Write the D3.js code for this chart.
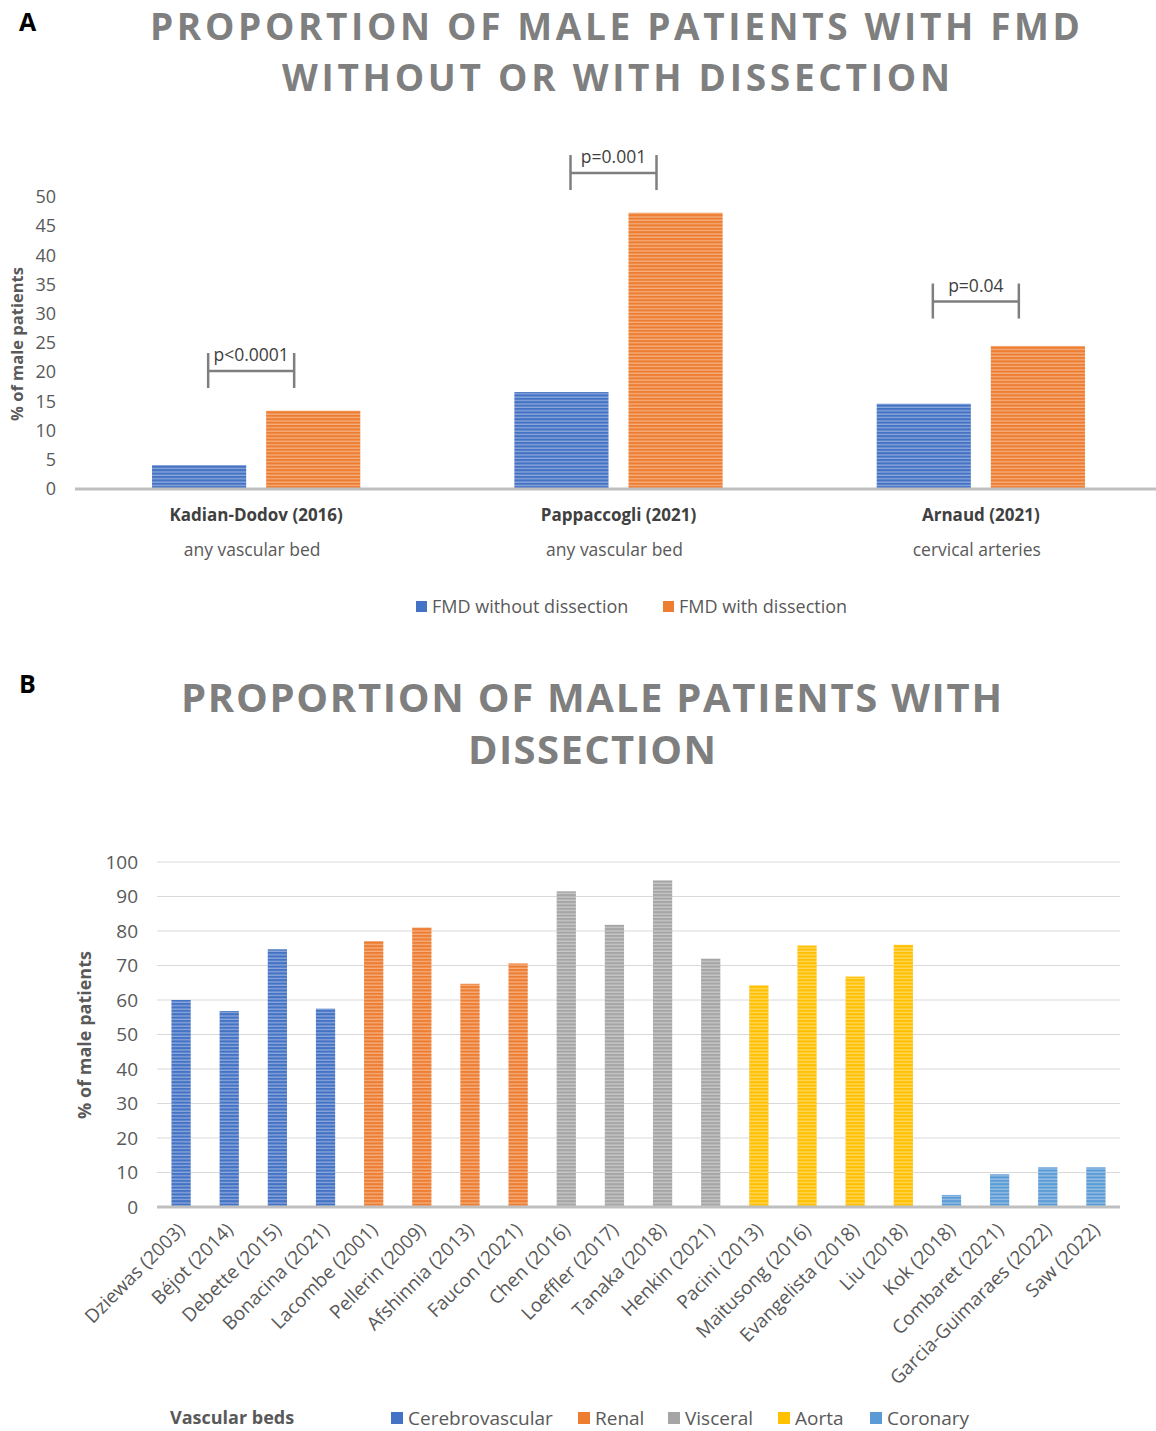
<!DOCTYPE html>
<html>
<head>
<meta charset="utf-8">
<script src="https://cdn.jsdelivr.net/npm/d3@7"></script>
<style>
  html, body { margin: 0; padding: 0; background: #fff; }
  svg { display: block; font-family: "Open Sans", sans-serif; }
</style>
</head>
<body>
<svg id="chart" width="1156" height="1431"></svg>
<script>
// ---------- Panel A data ----------
const studiesA = ["Kadian-Dodov (2016)", "Pappaccogli (2021)", "Arnaud (2021)"];
const bedsA = ["any vascular bed", "any vascular bed", "cervical arteries"];
const seriesA = ["FMD without dissection", "FMD with dissection"];
const withoutDissection = [4.1, 16.6, 14.6];
const withDissection = [13.4, 47.3, 24.5];
const pValues = ["p<0.0001", "p=0.001", "p=0.04"];
const bracketLevels = [20.2, 54.1, 32.1];
const ticksA = [0, 5, 10, 15, 20, 25, 30, 35, 40, 45, 50];

// ---------- Panel B data ----------
const studiesB = ["Dziewas (2003)", "Béjot (2014)", "Debette (2015)", "Bonacina (2021)",
  "Lacombe (2001)", "Pellerin (2009)", "Afshinnia (2013)", "Faucon (2021)",
  "Chen (2016)", "Loeffler (2017)", "Tanaka (2018)", "Henkin (2021)",
  "Pacini (2013)", "Maitusong (2016)", "Evangelista (2018)", "Liu (2018)",
  "Kok (2018)", "Combaret (2021)", "Garcia-Guimaraes (2022)", "Saw (2022)"];
const bedOfStudy = ["Cerebrovascular", "Cerebrovascular", "Cerebrovascular", "Cerebrovascular",
  "Renal", "Renal", "Renal", "Renal",
  "Visceral", "Visceral", "Visceral", "Visceral",
  "Aorta", "Aorta", "Aorta", "Aorta",
  "Coronary", "Coronary", "Coronary", "Coronary"];
const maleDissection = [60.0, 56.8, 74.7, 57.5, 77.1, 81.0, 64.7, 70.6,
  91.5, 81.8, 94.7, 72.0, 64.3, 75.8, 66.8, 76.0, 3.5, 9.5, 11.5, 11.5];
const bedsB = ["Cerebrovascular", "Renal", "Visceral", "Aorta", "Coronary"];
const ticksB = [0, 10, 20, 30, 40, 50, 60, 70, 80, 90, 100];

const colorA = d3.scaleOrdinal().domain(seriesA).range(["#4472C4", "#ED7D31"]);
const colorB = d3.scaleOrdinal().domain(bedsB).range(["#4472C4", "#ED7D31", "#A5A5A5", "#FFC000", "#5B9BD5"]);

const svg = d3.select("#chart");
const TEXT = "#595959";

// stripe patterns
const defs = svg.append("defs");
const allColors = Array.from(new Set(colorA.range().concat(colorB.range())));
allColors.forEach(c => {
  const p = defs.append("pattern")
    .attr("id", "pat" + c.slice(1))
    .attr("patternUnits", "userSpaceOnUse")
    .attr("width", 8).attr("height", 3.4);
  p.append("rect").attr("width", 8).attr("height", 3.4).attr("fill", c);
  p.append("rect").attr("y", 2.2).attr("width", 8).attr("height", 1).attr("fill", "#fff").attr("opacity", 0.5);
});
const pat = c => "url(#pat" + c.slice(1) + ")";

// ---------- titles ----------
function title(lines, cx, baselines, lengths, size) {
  lines.forEach((t, i) => {
    svg.append("text")
      .attr("x", cx[i]).attr("y", baselines[i])
      .attr("text-anchor", "middle")
      .attr("font-size", size).attr("font-weight", 700)
      .attr("fill", "#7f7f7f")
      .attr("textLength", lengths[i]).attr("lengthAdjust", "spacing")
      .text(t);
  });
}
svg.append("text").attr("x", 19).attr("y", 31).attr("font-size", 25).attr("font-weight", 700).attr("fill", "#000").text("A");
title(["PROPORTION OF MALE PATIENTS WITH FMD", "WITHOUT OR WITH DISSECTION"], [615, 616], [40, 91], [930, 668], 37);

svg.append("text").attr("x", 19).attr("y", 693).attr("font-size", 25).attr("font-weight", 700).attr("fill", "#000").text("B");
title(["PROPORTION OF MALE PATIENTS WITH", "DISSECTION"], [591.5, 592], [712, 764], [821, 248], 40);

// ---------- Panel A ----------
const yA = d3.scaleLinear().domain([0, 50]).range([489, 197]);
const xA = d3.scaleBand().domain(studiesA).range([75, 1162]).padding(0);
const xSub = d3.scaleBand().domain(seriesA).range([0, xA.bandwidth()]).paddingInner(0.175).paddingOuter(0.675);

const gA = svg.append("g");
const rowsA = studiesA.map((s, i) => ({ study: s, values: [withoutDissection[i], withDissection[i]] }));

gA.selectAll("g.grp").data(rowsA).join("g").attr("class", "grp")
  .attr("transform", d => `translate(${xA(d.study)},0)`)
  .selectAll("rect").data(d => seriesA.map((k, j) => ({ key: k, v: d.values[j] })))
  .join("rect")
  .attr("x", d => xSub(d.key))
  .attr("width", xSub.bandwidth())
  .attr("y", d => yA(d.v))
  .attr("height", d => yA(0) - yA(d.v))
  .attr("fill", d => pat(colorA(d.key)));

// axis baseline
gA.append("line").attr("x1", 75).attr("x2", 1156).attr("y1", yA(0)).attr("y2", yA(0))
  .attr("stroke", "#bfbfbf").attr("stroke-width", 3);

// y axis
const axA = gA.append("g").attr("transform", "translate(58,0)")
  .call(d3.axisLeft(yA).tickValues(ticksA).tickSize(0).tickPadding(2));
axA.select(".domain").remove();
axA.selectAll("text").attr("font-size", 18).attr("fill", TEXT).attr("font-family", "Open Sans");

gA.append("text").attr("transform", "translate(23,344) rotate(-90)")
  .attr("text-anchor", "middle").attr("font-size", 16.5).attr("font-weight", 700).attr("fill", TEXT)
  .text("% of male patients");

// category labels
studiesA.forEach((s, i) => {
  const cx = xA(s) + xA.bandwidth() / 2;
  gA.append("text").attr("x", cx).attr("y", 521).attr("text-anchor", "middle")
    .attr("font-size", 17).attr("font-weight", 700).attr("fill", "#404040").text(s);
  gA.append("text").attr("x", cx - 4).attr("y", 556).attr("text-anchor", "middle")
    .attr("font-size", 17.5).attr("fill", TEXT).text(bedsA[i]);
});

// significance brackets
studiesA.forEach((s, i) => {
  const cx = xA(s) + xA.bandwidth() / 2 - 5;
  const yy = yA(bracketLevels[i]);
  const half = 43;
  const g = gA.append("g").attr("stroke", "#7f7f7f").attr("stroke-width", 2.5);
  g.append("line").attr("x1", cx - half).attr("x2", cx + half).attr("y1", yy).attr("y2", yy);
  g.append("line").attr("x1", cx - half).attr("x2", cx - half).attr("y1", yy - 18).attr("y2", yy + 17);
  g.append("line").attr("x1", cx + half).attr("x2", cx + half).attr("y1", yy - 18).attr("y2", yy + 17);
  gA.append("text").attr("x", cx).attr("y", yy - 10).attr("text-anchor", "middle")
    .attr("font-size", 17.5).attr("fill", "#404040").text(pValues[i]);
});

// legend A
const legA = [{ key: seriesA[0], x: 416 }, { key: seriesA[1], x: 663 }];
legA.forEach(d => {
  gA.append("rect").attr("x", d.x).attr("y", 601).attr("width", 11).attr("height", 11).attr("fill", colorA(d.key));
  gA.append("text").attr("x", d.x + 16).attr("y", 613).attr("font-size", 18).attr("fill", TEXT).text(d.key);
});

// ---------- Panel B ----------
const yB = d3.scaleLinear().domain([0, 100]).range([1207, 862]);
const xB = d3.scaleBand().domain(studiesB).range([157, 1120]).paddingInner(0.6).paddingOuter(0.3);
const gB = svg.append("g");

// gridlines
gB.selectAll("line.grid").data(ticksB.filter(t => t > 0)).join("line").attr("class", "grid")
  .attr("x1", 157).attr("x2", 1120).attr("y1", d => yB(d)).attr("y2", d => yB(d))
  .attr("stroke", "#d9d9d9").attr("stroke-width", 1.2);

const rowsB = studiesB.map((s, i) => ({ study: s, bed: bedOfStudy[i], v: maleDissection[i] }));
gB.selectAll("rect.bar").data(rowsB).join("rect").attr("class", "bar")
  .attr("x", d => xB(d.study)).attr("width", xB.bandwidth())
  .attr("y", d => yB(d.v)).attr("height", d => yB(0) - yB(d.v))
  .attr("fill", d => pat(colorB(d.bed)));

gB.append("line").attr("x1", 157).attr("x2", 1120).attr("y1", yB(0)).attr("y2", yB(0))
  .attr("stroke", "#bfbfbf").attr("stroke-width", 3);

const axB = gB.append("g").attr("transform", "translate(140,0)")
  .call(d3.axisLeft(yB).tickValues(ticksB).tickSize(0).tickPadding(2));
axB.select(".domain").remove();
axB.selectAll("text").attr("font-size", 19).attr("fill", TEXT).attr("font-family", "Open Sans");

gB.append("text").attr("transform", "translate(91,1035) rotate(-90)")
  .attr("text-anchor", "middle").attr("font-size", 18).attr("font-weight", 700).attr("fill", TEXT)
  .text("% of male patients");

// rotated x labels
gB.selectAll("text.xl").data(studiesB).join("text").attr("class", "xl")
  .attr("transform", d => `translate(${xB(d) + xB.bandwidth() / 2 + 5},1231) rotate(-45)`)
  .attr("text-anchor", "end").attr("font-size", 19).attr("fill", TEXT)
  .text(d => d);

// legend B
gB.append("text").attr("x", 170).attr("y", 1424).attr("font-size", 18).attr("font-weight", 700)
  .attr("fill", TEXT).text("Vascular beds");
const legXs = [391, 578, 668, 778, 870];
bedsB.forEach((b, i) => {
  gB.append("rect").attr("x", legXs[i]).attr("y", 1412).attr("width", 12).attr("height", 12).attr("fill", colorB(b));
  gB.append("text").attr("x", legXs[i] + 17).attr("y", 1425).attr("font-size", 19).attr("fill", TEXT).text(b);
});
</script>
</body>
</html>
